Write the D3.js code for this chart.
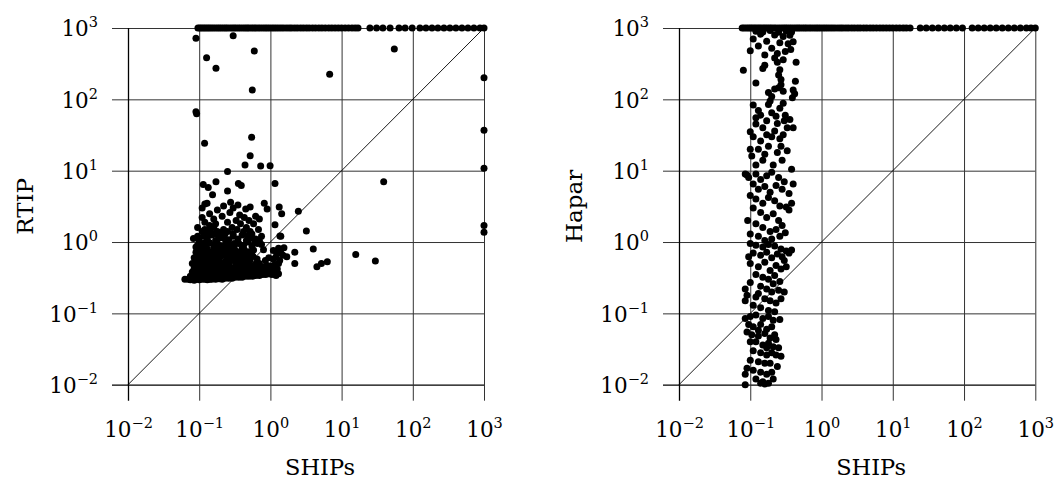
<!DOCTYPE html>
<html>
<head>
<meta charset="utf-8">
<script src="https://cdn.jsdelivr.net/npm/d3@7"></script>
<style>
  html, body { margin: 0; padding: 0; background: #fff; }
  svg { display: block; }
  text { font-family: "DejaVu Serif", "Liberation Serif", serif; fill: #000; }
</style>
</head>
<body>
<svg id="chart" width="1054" height="483"></svg>
<script>
// ---------------- DATA ----------------
const TIMEOUT = 1000;
const tickValues = [0.01, 0.1, 1, 10, 100, 1000];
const tickExponents = ["\u22122", "\u22121", "0", "1", "2", "3"];
const xLabel = "SHIPs";
const leftYLabel = "RTIP";
const rightYLabel = "Hapar";

// SHIPs times for which RTIP timed out (plotted at TIMEOUT)
const rtipTimeoutX = [0.096,0.102,0.108,0.115,0.122,0.13,0.138,0.147,0.157,0.168,0.18,0.192,0.205,0.22,0.235,0.25,0.27,0.29,0.31,0.33,0.355,0.38,0.41,0.44,0.47,0.5,0.54,0.58,0.62,0.67,0.72,0.78,0.84,0.9,0.97,1.05,1.13,1.22,1.32,1.43,1.55,1.7,1.85,2.0,2.2,2.4,2.65,2.9,3.2,3.5,3.9,4.3,4.8,5.3,5.9,6.6,7.3,8.1,9.0,10,11.2,12.5,14,15.5,17,25,31,38,48,64,78,98,126,153,186,225,274,332,403,490,595,722,877,1000];

// [SHIPs, RTIP]
const rtipPoints = [
 [0.063,0.30],[0.07,0.30],[0.075,0.295],[0.08,0.30],[0.085,0.29],[0.09,0.30],[0.1,0.295],[0.11,0.30],[0.12,0.30],[0.13,0.295],[0.14,0.30],[0.15,0.30],[0.17,0.30],[0.19,0.305],[0.21,0.30],[0.23,0.31],[0.26,0.31],[0.29,0.31],[0.32,0.32],[0.36,0.32],[0.4,0.32],[0.45,0.33],[0.5,0.33],[0.56,0.33],[0.62,0.34],[0.7,0.34],[0.78,0.35],[0.86,0.35],[0.95,0.36],[1.05,0.35],[1.2,0.34],[1.3,0.36],
 [0.075,0.33],[0.085,0.34],[0.095,0.33],[0.105,0.34],[0.115,0.33],[0.125,0.34],[0.14,0.33],[0.16,0.34],[0.18,0.33],[0.2,0.34],[0.22,0.33],[0.25,0.34],[0.28,0.35],[0.31,0.34],[0.35,0.35],[0.39,0.36],[0.44,0.36],[0.49,0.37],[0.55,0.37],[0.6,0.38],[0.68,0.38],[0.75,0.39],[0.85,0.40],[0.95,0.41],[1.1,0.40],[1.25,0.42],
 [0.08,0.38],[0.09,0.37],[0.1,0.39],[0.11,0.37],[0.12,0.38],[0.135,0.39],[0.15,0.37],[0.17,0.38],[0.19,0.39],[0.21,0.37],[0.24,0.38],[0.27,0.39],[0.3,0.38],[0.34,0.40],[0.38,0.39],[0.42,0.41],[0.47,0.40],[0.52,0.42],[0.58,0.41],[0.65,0.43],[0.72,0.44],[0.8,0.45],[0.9,0.47],[1.0,0.46],[1.15,0.48],[1.3,0.5],
 [0.085,0.43],[0.095,0.45],[0.105,0.42],[0.115,0.44],[0.13,0.43],[0.145,0.45],[0.16,0.42],[0.18,0.44],[0.2,0.43],[0.22,0.45],[0.25,0.42],[0.28,0.44],[0.32,0.45],[0.36,0.43],[0.4,0.46],[0.45,0.44],[0.5,0.47],[0.56,0.46],[0.62,0.49],[0.7,0.5],
 [0.08,0.5],[0.09,0.52],[0.1,0.49],[0.11,0.53],[0.12,0.5],[0.13,0.55],[0.14,0.48],[0.155,0.52],[0.17,0.5],[0.19,0.54],[0.21,0.49],[0.23,0.52],[0.26,0.5],[0.29,0.55],[0.33,0.51],[0.37,0.54],[0.41,0.5],[0.46,0.53],[0.52,0.56],[0.85,0.55],[0.95,0.6],[1.1,0.58],[1.2,0.62],[1.35,0.55],[1.5,0.65],
 [0.085,0.6],[0.095,0.63],[0.105,0.58],[0.12,0.62],[0.13,0.65],[0.15,0.6],[0.165,0.63],[0.18,0.58],[0.2,0.62],[0.22,0.66],[0.25,0.6],[0.28,0.63],[0.31,0.58],[0.35,0.62],[0.4,0.6],[0.45,0.64],[0.5,0.6],[0.57,0.63],[0.65,0.58],[1.4,0.7],[1.25,0.72],
 [0.09,0.72],[0.1,0.78],[0.11,0.7],[0.12,0.76],[0.14,0.72],[0.16,0.8],[0.18,0.74],[0.2,0.7],[0.23,0.77],[0.26,0.72],[0.29,0.8],[0.33,0.74],[0.38,0.7],[0.43,0.78],[0.5,0.73],[0.58,0.77],[0.8,0.78],[1.1,0.76],[1.3,0.82],
 [0.095,0.9],[0.11,0.95],[0.125,0.86],[0.14,0.98],[0.16,0.88],[0.18,0.95],[0.21,0.87],[0.24,0.97],[0.27,0.9],[0.31,0.85],[0.36,0.95],[0.42,0.9],[0.48,1.0],[0.55,0.88],[0.65,0.95],[0.75,0.92],
 [0.09,0.85],[0.105,0.75],[0.13,0.8],[0.15,0.7],[0.17,0.9],[0.19,0.65],[0.22,0.8],[0.25,0.85],[0.28,0.68],[0.31,0.95],[0.34,0.65],[0.4,0.82],[0.09,0.58],[0.11,0.85],[0.125,1.0],[0.145,0.56],[0.17,0.62],[0.2,0.85],[0.24,0.55],[0.27,0.58],
 [0.1,1.05],[0.115,1.2],[0.13,1.1],[0.15,1.25],[0.17,1.05],[0.2,1.15],[0.23,1.3],[0.26,1.08],[0.3,1.2],[0.35,1.1],[0.4,1.25],[0.46,1.05],[0.55,1.15],[0.62,1.1],[0.7,1.05],[0.083,1.12],
 [0.095,1.2],[0.11,1.4],[0.14,1.45],[0.16,1.6],[0.19,1.2],[0.25,1.4],[0.095,1.6],[0.16,1.3],[0.23,1.1],[0.34,1.5],[0.46,1.6],[0.52,1.4],
 [0.11,2.2],[0.12,1.9],[0.12,1.5],[0.14,1.7],[0.16,2.1],[0.17,1.8],[0.2,1.35],[0.22,1.5],[0.25,1.9],[0.29,1.6],[0.33,2.0],[0.38,1.8],[0.42,1.4],[0.48,1.2],[0.55,1.3],[0.6,1.05],[0.3,1.3],[0.18,1.4],[0.13,1.3],[0.14,2.5],[0.18,2.8],[0.21,2.3],[0.27,2.6],[0.3,3.0],[0.37,2.4],[0.43,2.2],[0.5,2.0],[0.58,1.8],[0.68,1.5],[0.75,1.2],[0.11,3.0],[0.12,3.4],[0.22,3.2],[0.35,3.3],[0.45,2.9],[0.62,2.3],[0.7,2.1],[1.4,1.2],
 [0.114,6.4],[0.134,5.8],[0.172,7.0],[0.355,6.6],[0.39,6.2],[0.25,5.2],[0.154,4.6],[0.276,3.6],[0.129,3.5],[0.52,3.1],[0.82,3.5],[0.9,2.9],[1.33,3.1],[1.44,2.5],[1.16,1.74],[1.55,0.83],[1.7,0.62],[2.2,0.72],[2.2,0.5],[4.0,0.8],[4.5,0.45],[5.2,0.5],[6.3,0.53],[15.8,0.67],[29.8,0.54],[2.47,2.7],[3.2,1.43],[1.16,6.6],[0.25,9.7],[0.44,12],[0.73,11.6],[0.99,11.7],[0.52,16.2],[0.545,29.4],[0.119,24.2],[0.09,67],[0.092,63],[0.557,135],[0.127,384],[0.172,272],[0.594,476],[0.09,718],[0.3,780],[6.8,224],[55,508],[39,7.0],[1000,201],[1000,37],[1000,10.8],[1000,1.71],[1000,1.37],[1.36,1.21]
];

// SHIPs times for which Hapar timed out (plotted at TIMEOUT)
const haparTimeoutX = [0.077,0.082,0.088,0.094,0.1,0.106,0.113,0.12,0.128,0.136,0.145,0.155,0.165,0.176,0.188,0.2,0.215,0.23,0.25,0.27,0.29,0.31,0.33,0.355,0.38,0.41,0.44,0.47,0.5,0.54,0.58,0.62,0.67,0.72,0.78,0.84,0.9,0.97,1.05,1.13,1.22,1.32,1.43,1.55,1.7,1.85,2.0,2.2,2.4,2.65,2.9,3.2,3.5,3.9,4.3,4.8,5.3,5.9,6.6,7.3,8.1,9.0,10,11.2,12.5,14,15.5,17.5,24.3,29.5,35.9,43.6,53,64,78,95,130,158,192,233,283,344,418,508,617,750,870,1000];

// [SHIPs, Hapar]
const haparPoints = [
 [0.12,900],[0.15,880],[0.19,920],[0.25,870],[0.32,910],[0.38,880],[0.14,820],[0.22,800],[0.29,760],[0.36,790],[0.11,700],[0.17,650],[0.26,620],[0.34,600],[0.4,640],[0.1,480],[0.13,560],[0.2,520],[0.24,440],[0.31,470],[0.37,500],[0.16,420],[0.22,380],[0.29,360],[0.08,255],[0.16,300],[0.15,270],[0.24,330],[0.44,330],[0.26,260],[0.25,220],[0.27,190],[0.43,180],[0.12,170],[0.27,160],[0.22,140],[0.29,130],[0.18,125],[0.2,110],[0.42,120],[0.39,105],[0.4,135],[0.25,145],
 [0.11,83],[0.13,70],[0.18,85],[0.2,65],[0.26,75],[0.29,88],[0.12,55],[0.17,50],[0.15,40],[0.24,46],[0.3,50],[0.36,52],[0.1,35],[0.11,30],[0.14,26],[0.2,30],[0.26,28],[0.33,40],[0.13,20],[0.18,22],[0.24,18],[0.105,16],[0.33,19],[0.15,14],[0.21,12],[0.28,14],[0.38,10.5],[0.12,12],[0.16,17],[0.22,36],[0.27,22],[0.14,60],[0.23,58],[0.31,60],[0.12,45],[0.19,95],[0.4,40],[0.1,20],[0.29,32],[0.17,32],[0.085,9],[0.09,8.7],
 [0.095,8],[0.12,9],[0.14,7.5],[0.17,8.5],[0.2,9.5],[0.25,8],[0.3,7],[0.11,6.5],[0.13,5.5],[0.16,6],[0.19,5],[0.23,6.2],[0.28,5.5],[0.35,4.8],[0.1,4.5],[0.12,4],[0.15,3.5],[0.18,4.2],[0.22,3.8],[0.26,3.2],[0.32,3.1],[0.11,3],[0.14,2.6],[0.17,2.2],[0.21,2.5],[0.25,2],[0.12,1.8],[0.15,1.6],[0.19,1.4],[0.23,1.5],[0.28,1.7],[0.1,1.3],[0.13,1.2],[0.16,1.05],[0.2,1.1],[0.26,1.2],[0.31,1.35],[0.092,2.0],[0.35,2.8],[0.4,6.5],[0.38,3.5],
 [0.1,0.95],[0.12,0.9],[0.15,0.85],[0.18,0.92],[0.22,0.88],[0.27,0.8],[0.32,0.75],[0.38,0.77],[0.11,0.7],[0.14,0.65],[0.17,0.72],[0.2,0.6],[0.24,0.68],[0.3,0.55],[0.35,0.7],[0.1,0.5],[0.13,0.45],[0.16,0.52],[0.19,0.4],[0.23,0.47],[0.27,0.42],[0.12,0.35],[0.15,0.32],[0.18,0.3],[0.22,0.34],[0.26,0.28],[0.1,0.27],[0.14,0.24],[0.17,0.22],[0.2,0.2],[0.25,0.21],[0.09,0.18],[0.12,0.17],[0.16,0.16],[0.19,0.15],[0.23,0.14],[0.27,0.16],[0.085,0.15],[0.11,0.13],[0.14,0.12],[0.18,0.11],[0.22,0.105],[0.13,0.19],[0.3,0.2],[0.21,0.26],[0.095,0.62],[0.28,0.62],[0.085,0.22],[0.32,0.45],
 [0.085,0.085],[0.1,0.09],[0.12,0.095],[0.15,0.085],[0.18,0.09],[0.21,0.08],[0.26,0.082],[0.095,0.07],[0.11,0.065],[0.14,0.07],[0.17,0.06],[0.2,0.065],[0.09,0.055],[0.105,0.05],[0.13,0.048],[0.16,0.052],[0.19,0.045],[0.22,0.05],[0.12,0.04],[0.15,0.036],[0.18,0.038],[0.21,0.034],[0.25,0.033],[0.11,0.03],[0.14,0.028],[0.17,0.026],[0.2,0.028],[0.23,0.026],[0.27,0.025],[0.1,0.022],[0.13,0.021],[0.16,0.02],[0.19,0.02],[0.24,0.018],[0.09,0.017],[0.11,0.016],[0.14,0.015],[0.17,0.014],[0.2,0.015],[0.085,0.014],[0.12,0.012],[0.15,0.011],[0.18,0.0105],[0.21,0.012],[0.16,0.0102],[0.14,0.0105],[0.085,0.01],[0.13,0.058],[0.23,0.043],[0.1,0.04],[0.17,0.033]
];

// ---------------- DRAWING ----------------
const svg = d3.select("#chart");
const TICK_EXT = 16;
const DOT_R = 3.5;

function drawPanel(cfg) {
  const x = d3.scaleLog().domain([0.01, 1000]).range([cfg.x0, cfg.x1]);
  const y = d3.scaleLog().domain([0.01, 1000]).range([cfg.y0, cfg.y1]);
  const g = svg.append("g");
  const plotW = cfg.x1 - cfg.x0, plotH = cfg.y0 - cfg.y1;

  function fmt(sel) {
    sel.selectAll(".tick text").each(function(d) {
      const t = d3.select(this);
      t.text(null).attr("font-size", 21.5);
      t.append("tspan").text("10");
      t.append("tspan").attr("dy", -9).attr("font-size", 14.5).text(tickExponents[tickValues.indexOf(d)]);
    });
  }

  // y axis / horizontal grid
  const yAxis = d3.axisLeft(y).tickValues(tickValues).tickSizeInner(-(plotW + TICK_EXT)).tickSizeOuter(0).tickPadding(14);
  const gy = g.append("g").attr("transform", `translate(${cfg.x0 - TICK_EXT},0)`).call(yAxis);
  gy.select(".domain").remove();
  gy.selectAll(".tick line").attr("stroke", d => d === 0.01 ? "#000" : "#333").attr("stroke-width", d => d === 0.01 ? 1.3 : 1);
  fmt(gy);
  gy.selectAll(".tick text").attr("font-family", "DejaVu Serif, serif").attr("dy", "0.36em");

  // x axis / vertical grid
  const xAxis = d3.axisBottom(x).tickValues(tickValues).tickSizeInner(-(plotH + TICK_EXT)).tickSizeOuter(0).tickPadding(21);
  const gx = g.append("g").attr("transform", `translate(0,${cfg.y0 + TICK_EXT})`).call(xAxis);
  gx.select(".domain").remove();
  gx.selectAll(".tick line").attr("stroke", d => d === 0.01 ? "#000" : "#333").attr("stroke-width", d => d === 0.01 ? 1.3 : 1);
  fmt(gx);
  gx.selectAll(".tick text").attr("font-family", "DejaVu Serif, serif");

  // diagonal y = x
  const line = d3.line().x(d => x(d)).y(d => y(d));
  g.append("path").datum([0.01, 1000]).attr("d", line)
    .attr("fill", "none").attr("stroke", "#000").attr("stroke-width", 0.9);

  // points
  const all = cfg.points.concat(cfg.timeoutX.map(v => [v, TIMEOUT]));
  g.append("g").selectAll("circle").data(all).join("circle")
    .attr("cx", d => x(d[0])).attr("cy", d => y(d[1])).attr("r", DOT_R).attr("fill", "#000");

  // axis labels
  g.append("text").attr("x", (cfg.x0 + cfg.x1) / 2 + 14).attr("y", 475)
    .attr("text-anchor", "middle").attr("font-size", 22.5).text(xLabel);
  g.append("text").attr("transform", `translate(${cfg.yLabelX},${(cfg.y0 + cfg.y1) / 2}) rotate(-90)`)
    .attr("text-anchor", "middle").attr("font-size", 23).text(cfg.yLabel);
}

drawPanel({ x0: 128, x1: 484, y0: 384.7, y1: 28, points: rtipPoints, timeoutX: rtipTimeoutX, yLabel: leftYLabel, yLabelX: 33 });
drawPanel({ x0: 679, x1: 1035.3, y0: 384.7, y1: 28, points: haparPoints, timeoutX: haparTimeoutX, yLabel: rightYLabel, yLabelX: 582 });
</script>
</body>
</html>
